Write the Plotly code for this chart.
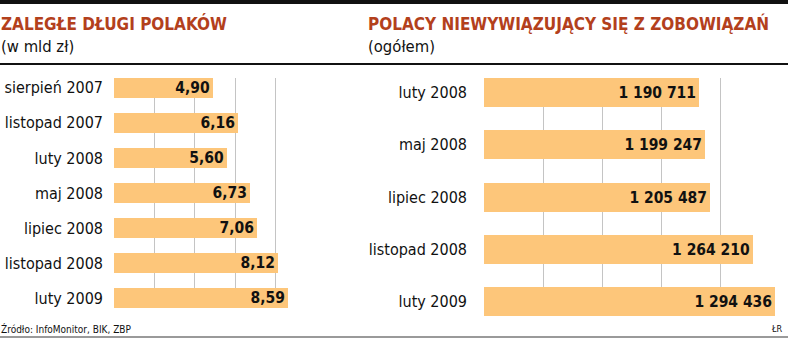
import plotly.graph_objects as go

# ---- data ----
left_categories = ["sierpień 2007", "listopad 2007", "luty 2008", "maj 2008",
                   "lipiec 2008", "listopad 2008", "luty 2009"]
left_values = [4.90, 6.16, 5.60, 6.73, 7.06, 8.12, 8.59]

right_categories = ["luty 2008", "maj 2008", "lipiec 2008", "listopad 2008", "luty 2009"]
right_values = [1190711, 1199247, 1205487, 1264210, 1294436]

left_ticks = [0, 2, 4, 6, 8, 10]
right_ticks = [900000, 980000, 1060000, 1140000, 1220000, 1300000]

left_title = "ZALEGŁE DŁUGI POLAKÓW"
left_subtitle = "(w mld zł)"
right_title = "POLACY NIEWYWIĄZUJĄCY SIĘ Z ZOBOWIĄZAŃ"
right_subtitle = "(ogółem)"
source_text = "Źródło: InfoMonitor, BIK, ZBP"
credit_text = "ŁR"

# ---- style ----
W, H = 788, 338
BAR = "#FDC67A"
GRID = "#C4C4C4"
TITLE_C = "#B3401C"
FONT = "DejaVu Sans Condensed, Liberation Sans Narrow, sans-serif"


def fmt_left(v):
    return f"{v:.2f}".replace(".", ",")


def fmt_right(v):
    return f"{v:,}".replace(",", " ")


def px(x):
    return x / W


def py(y):
    return 1 - y / H


fig = go.Figure()

fig.add_trace(go.Bar(
    x=left_values, y=left_categories, orientation="h",
    marker=dict(color=BAR, line=dict(width=0)),
    width=0.556,
    text=[fmt_left(v) for v in left_values],
    textposition="inside", insidetextanchor="end", constraintext="none",
    textfont=dict(family=FONT, size=15.5, color="#111111", weight="bold"),
    xaxis="x", yaxis="y", hoverinfo="skip",
))

fig.add_trace(go.Bar(
    x=right_values, y=right_categories, orientation="h",
    marker=dict(color=BAR, line=dict(width=0)),
    width=0.555,
    base=0,
    text=[fmt_right(v) for v in right_values],
    textposition="inside", insidetextanchor="end", constraintext="none",
    textfont=dict(family=FONT, size=15.5, color="#111111", weight="bold"),
    xaxis="x2", yaxis="y2", hoverinfo="skip",
))

axis_common = dict(showgrid=True, gridcolor=GRID, gridwidth=1, showline=False,
                   zeroline=False, showticklabels=False, ticks="", fixedrange=True)

fig.update_layout(
    width=W, height=H,
    margin=dict(l=0, r=0, t=0, b=0),
    paper_bgcolor="white", plot_bgcolor="white",
    showlegend=False,
    font=dict(family=FONT, color="#111111"),
    bargap=0,
    xaxis=dict(domain=[px(114), px(316)], range=[0, 10], tickvals=left_ticks,
               anchor="y", **axis_common),
    yaxis=dict(domain=[py(308), py(78)], range=[6.278, -0.278],
               categoryorder="array", categoryarray=left_categories,
               showgrid=False, zeroline=False, showline=False, ticks="",
               tickfont=dict(family=FONT, size=16, color="#111111"),
               ticklabelstandoff=10, anchor="x", fixedrange=True),
    xaxis2=dict(domain=[px(484), px(779.3)], range=[900000, 1300000], tickvals=right_ticks,
                anchor="y2", **axis_common),
    yaxis2=dict(domain=[py(316), py(78)], range=[4.2775, -0.2775],
                categoryorder="array", categoryarray=right_categories,
                showgrid=False, zeroline=False, showline=False, ticks="",
                tickfont=dict(family=FONT, size=16, color="#111111"),
                ticklabelstandoff=16, anchor="x2", fixedrange=True),
)

shapes = [
    dict(type="rect", xref="paper", yref="paper", x0=0, x1=1, y0=py(4), y1=1,
         fillcolor="#111111", line=dict(width=0), layer="above"),
    dict(type="line", xref="paper", yref="paper", x0=0, x1=1, y0=py(64), y1=py(64),
         line=dict(color="#111111", width=2)),
    dict(type="line", xref="paper", yref="paper", x0=0, x1=1, y0=py(337), y1=py(337),
         line=dict(color="#9A9A9A", width=2)),
]
fig.update_layout(shapes=shapes)

ann = [
    dict(text=left_title, x=px(-1), y=py(23), xanchor="left", yanchor="middle",
         font=dict(family=FONT, size=17, color=TITLE_C, weight="bold")),
    dict(text=left_subtitle, x=px(-1), y=py(47), xanchor="left", yanchor="middle",
         font=dict(family=FONT, size=16.5, color="#111111")),
    dict(text=right_title, x=px(366), y=py(23), xanchor="left", yanchor="middle",
         font=dict(family=FONT, size=17, color=TITLE_C, weight="bold")),
    dict(text=right_subtitle, x=px(366), y=py(47), xanchor="left", yanchor="middle",
         font=dict(family=FONT, size=16.5, color="#111111")),
    dict(text=source_text, x=px(-1), y=py(329), xanchor="left", yanchor="middle",
         font=dict(family=FONT, size=10, color="#111111")),
    dict(text=credit_text, x=px(785), y=py(329), xanchor="right", yanchor="middle",
         font=dict(family=FONT, size=9, color="#111111")),
]
for a in ann:
    a.update(xref="paper", yref="paper", showarrow=False)
fig.update_layout(annotations=ann)

fig.write_html("out.html", config={"displayModeBar": False})
